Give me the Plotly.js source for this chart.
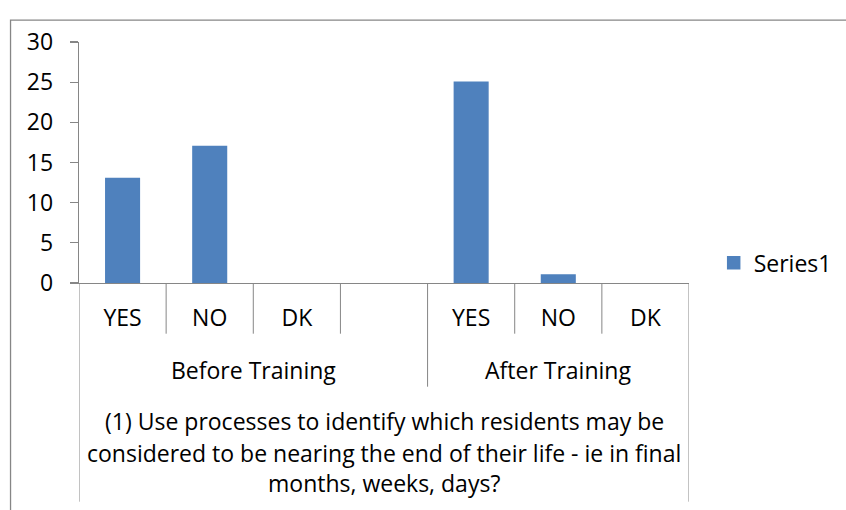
<!DOCTYPE html>
<html>
<head>
<meta charset="utf-8">
<script src="https://cdn.plot.ly/plotly-3.0.1.min.js"></script>
<style>html,body{margin:0;padding:0;background:#fff;}#chart{width:846px;height:510px;}</style>
</head>
<body>
<div id="chart"></div>
<script>
// ---- data ----
var categories = ["YES", "NO", "DK", "", "YES", "NO", "DK"];
var values = [13, 17, 0, null, 25, 1, 0];
var groups = ["Before Training", "After Training"];
var groupStart = [0, 4];
var groupEnd = [3, 6];
var seriesName = "Series1";
var titleLines = [
  "(1) Use processes to identify which residents may be",
  "considered to be nearing the end of their life - ie in final",
  "months, weeks, days?"
];
var yTicks = [0, 5, 10, 15, 20, 25, 30];

// ---- layout helpers ----
var W = 846, H = 510;
var plotL = 79, plotR = 689.3, plotT = 42.3, plotB = 283.3;
var plotH = plotB - plotT, plotW = plotR - plotL;
function py(px) { return (plotB - px) / plotH; }
function pxX(px) { return (px - plotL) / plotW; }
var FONT = "Open Sans, Noto Sans, sans-serif";
var FS = 23;
var gridCol = "#868686";
var barCol = "#4F81BD";

var xIdx = categories.map(function (c, i) { return i; });

var shapes = [];
// category dividers
for (var i = 0; i <= categories.length; i++) {
  var xv = i - 0.5;
  var isEdge = (i === 0 || i === categories.length);
  var isGroupEdge = groupStart.indexOf(i) >= 0;
  var bottom = isEdge ? 502 : (isGroupEdge ? 387 : 334);
  shapes.push({type: "line", xref: "x", yref: "paper", x0: xv, x1: xv,
    y0: py(plotB), y1: py(bottom), line: {color: gridCol, width: 1}});
}
// outer chart border
shapes.push({type: "rect", xref: "paper", yref: "paper",
  x0: pxX(10.5), x1: pxX(900), y0: py(560), y1: py(20.5),
  line: {color: gridCol, width: 1.3}, layer: "below"});

var annotations = [];
groups.forEach(function (g, k) {
  annotations.push({text: g, xref: "x", yref: "paper",
    x: (groupStart[k] - 0.5 + groupEnd[k] + 0.5) / 2, y: py(370),
    showarrow: false, xanchor: "center", yanchor: "middle",
    font: {family: FONT, size: FS, color: "#000"}});
});
var titleY = [421.5, 453, 483.5];
titleLines.forEach(function (t, k) {
  annotations.push({text: t, xref: "paper", yref: "paper",
    x: 0.5, y: py(titleY[k]), showarrow: false,
    xanchor: "center", yanchor: "middle",
    font: {family: FONT, size: FS, color: "#000"}});
});

var trace = {
  type: "bar", x: xIdx, y: values, name: seriesName,
  marker: {color: barCol,
    line: {color: barCol, width: values.map(function (v) { return v > 0 ? 1.5 : 0; })}},
  width: 0.385, showlegend: true,
  hoverinfo: "none"
};

var layout = {
  width: W, height: H,
  margin: {l: plotL, r: W - plotR, t: plotT, b: H - plotB, pad: 0, autoexpand: false},
  paper_bgcolor: "#fff", plot_bgcolor: "#fff",
  font: {family: FONT, size: FS, color: "#000"},
  showlegend: true,
  legend: {x: pxX(714), xanchor: "left", y: py(263), yanchor: "middle",
    font: {family: FONT, size: FS, color: "#000"}, bgcolor: "rgba(0,0,0,0)"},
  xaxis: {
    range: [-0.5, categories.length - 0.5], tickmode: "array",
    tickvals: xIdx, ticktext: categories, ticks: "", showgrid: false,
    zeroline: false, showline: true, linecolor: gridCol, linewidth: 1.3,
    tickfont: {family: FONT, size: FS, color: "#000"},
    ticklabelstandoff: 14, fixedrange: true, automargin: false
  },
  yaxis: {
    range: [0, 30], tickmode: "array", tickvals: yTicks,
    ticks: "outside", ticklen: 8, tickcolor: gridCol, tickwidth: 1.3,
    showgrid: false, zeroline: false, showline: true, linecolor: gridCol,
    linewidth: 1.3, tickfont: {family: FONT, size: FS, color: "#000"},
    ticklabelstandoff: 12, fixedrange: true, automargin: false
  },
  shapes: shapes,
  annotations: annotations,
  bargap: 0.6
};

Plotly.newPlot("chart", [trace], layout, {displayModeBar: false, staticPlot: true});
</script>
</body>
</html>
